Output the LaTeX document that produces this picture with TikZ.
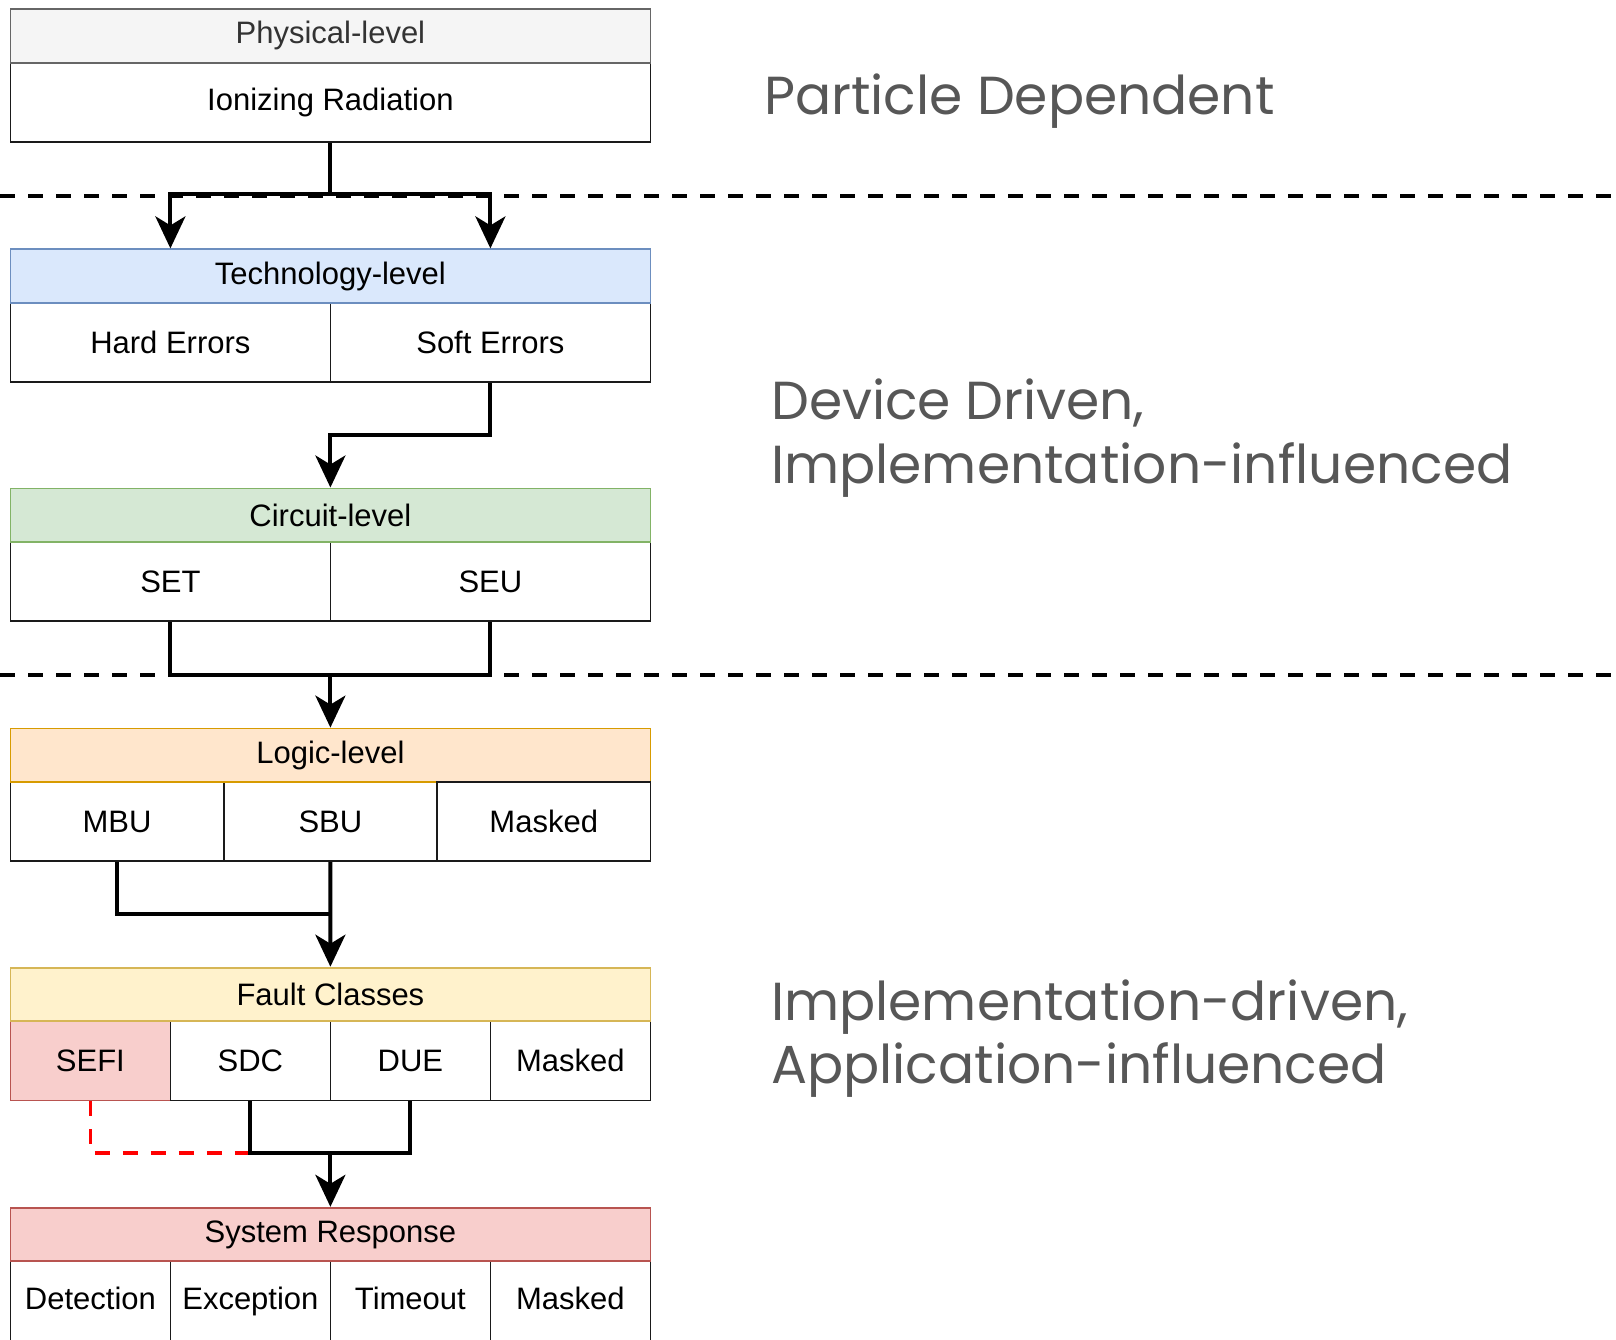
\documentclass[tikz,border=0pt]{standalone}
\usepackage{fontspec}
\setmainfont{Liberation Sans}
\newfontfamily\notefont{Poppins}
\usetikzlibrary{arrows.meta,calc}

\definecolor{physfill}{HTML}{F5F5F5}
\definecolor{physdraw}{HTML}{666666}
\definecolor{phystext}{HTML}{333333}
\definecolor{techfill}{HTML}{DAE8FC}
\definecolor{techdraw}{HTML}{6C8EBF}
\definecolor{circfill}{HTML}{D5E8D4}
\definecolor{circdraw}{HTML}{82B366}
\definecolor{logicfill}{HTML}{FFE6CC}
\definecolor{logicdraw}{HTML}{D79B00}
\definecolor{faultfill}{HTML}{FFF2CC}
\definecolor{faultdraw}{HTML}{D6B656}
\definecolor{sysfill}{HTML}{F8CECC}
\definecolor{sysdraw}{HTML}{B85450}
\definecolor{notegray}{HTML}{575757}
\definecolor{celldraw}{HTML}{1A1A1A}

\tikzset{
  labelfont/.style={font=\fontsize{31}{36}\selectfont},
  hdr/.style={draw, line width=1.8pt, minimum width=640pt, minimum height=53.6pt,
    anchor=north west, inner sep=0pt, labelfont},
  cell/.style={draw=celldraw, fill=white, line width=1.8pt, minimum height=79.2pt,
    anchor=north west, inner sep=0pt, labelfont},
  celltext/.style={anchor=base, inner sep=0pt, labelfont},
  conn/.style={line width=4pt, draw=black},
  arr/.style={conn, -{Stealth[length=32pt,width=30pt,inset=9pt]}},
  sepline/.style={line width=3.5pt, dash pattern=on 15pt off 13pt},
  sefipath/.style={line width=3.5pt, draw=red, dash pattern=on 15pt off 13pt},
  note/.style={anchor=base west, text=notegray, inner sep=0pt,
    font=\notefont\fontsize{53.5}{63}\selectfont},
}

\begin{document}
\begin{tikzpicture}[x=1pt,y=-1pt]
  \clip (0,0) rectangle (1616,1339);
  \fill[white] (0,0) rectangle (1616,1339);

  % layer separators
  \draw[sepline] (0,195.8) -- (1616,195.8);
  \draw[sepline] (0,675) -- (1616,675);

  % Physical level
  \node[cell, minimum width=640pt] (ion) at (9.5,61.8) {Ionizing Radiation};
  \node[hdr, fill=physfill, draw=physdraw, text=phystext] (phys) at (9.5,8.2) {Physical-level};

  % Technology level
  \node[cell, minimum width=320pt] (hard) at (9.5,302) {Hard Errors};
  \node[cell, minimum width=320pt] (soft) at (329.5,302) {Soft Errors};
  \node[hdr, fill=techfill, draw=techdraw] (tech) at (9.5,248.4) {Technology-level};

  % Circuit level
  \node[cell, minimum width=320pt] (set) at (9.5,541.1) {SET};
  \node[cell, minimum width=320pt] (seu) at (329.5,541.1) {SEU};
  \node[hdr, fill=circfill, draw=circdraw] (circ) at (9.5,487.5) {Circuit-level};

  % Logic level
  \node[cell, minimum width=213.33pt] (mbu) at (9.5,781.2) {MBU};
  \node[cell, minimum width=213.33pt] (sbu) at (222.83,781.2) {SBU};
  \node[hdr, fill=logicfill, draw=logicdraw] (logic) at (9.5,727.6) {Logic-level};
  \node[cell, minimum width=213.33pt] (lmask) at (436.17,781.2) {Masked};

  % Fault classes
  \node[cell, minimum width=160pt, fill=sysfill, draw=sysdraw] (sefi) at (9.5,1020.3) {SEFI};
  \node[cell, minimum width=160pt] (sdc) at (169.5,1020.3) {SDC};
  \node[cell, minimum width=160pt] (due) at (329.5,1020.3) {DUE};
  \node[cell, minimum width=160pt] (fmask) at (489.5,1020.3) {Masked};
  \node[hdr, fill=faultfill, draw=faultdraw] (fault) at (9.5,966.7) {Fault Classes};

  % System response (its lower edge lies below the page)
  \node[cell, minimum width=160pt, minimum height=90pt] (det) at (9.5,1260.4) {};
  \node[cell, minimum width=160pt, minimum height=90pt] (exc) at (169.5,1260.4) {};
  \node[cell, minimum width=160pt, minimum height=90pt] (tout) at (329.5,1260.4) {};
  \node[cell, minimum width=160pt, minimum height=90pt] (smask) at (489.5,1260.4) {};
  \node[celltext] (detl) at (det.north |- 0,1309) {Detection};
  \node[celltext] (excl) at (exc.north |- 0,1309) {Exception};
  \node[celltext] (toutl) at (tout.north |- 0,1309) {Timeout};
  \node[celltext] (smaskl) at (smask.north |- 0,1309) {Masked};
  \node[hdr, fill=sysfill, draw=sysdraw] (sys) at (9.5,1206.8) {System Response};

  % junction points of the connectors
  \coordinate (split) at ($(ion.south)+(0,51.5)$);
  \coordinate (jcirc) at ($(set.south -| circ.south)+(0,52.6)$);
  \coordinate (jlogic) at ($(sbu.south)+(0,51.5)$);
  \coordinate (jfault) at ($(sdc.south -| fault.south)+(0,51.5)$);

  % connectors
  \draw[conn] (ion.south) -- (split);
  \draw[arr] (split) -| (hard |- tech.north);
  \draw[arr] (split) -| (soft |- tech.north);

  \draw[arr] (soft.south) -- ++(0,51.6) -| (circ.north);

  \draw[conn] (set.south) |- (jcirc) -| (seu.south);
  \draw[arr] (jcirc) -- (logic.north);

  \draw[conn] (mbu.south) |- (jlogic);
  \draw[arr] (sbu.south) -- (fault.north);

  \draw[sefipath] (sefi.south) |- (jfault);
  \draw[conn] (sdc.south) |- (jfault) -| (due.south);
  \draw[arr] (jfault) -- (sys.north);

  % layer descriptions
  \node[note] (pdep) at (764,114.5) {Particle Dependent};
  \node[note] (ddrv1) at (771,419.5) {Device Driven,};
  \node[note] (ddrv2) at (771,483) {Implementation-influenced};
  \node[note] (idrv1) at (771,1020) {Implementation-driven,};
  \node[note] (idrv2) at (771,1083.5) {Application-influenced};
\end{tikzpicture}
\end{document}
